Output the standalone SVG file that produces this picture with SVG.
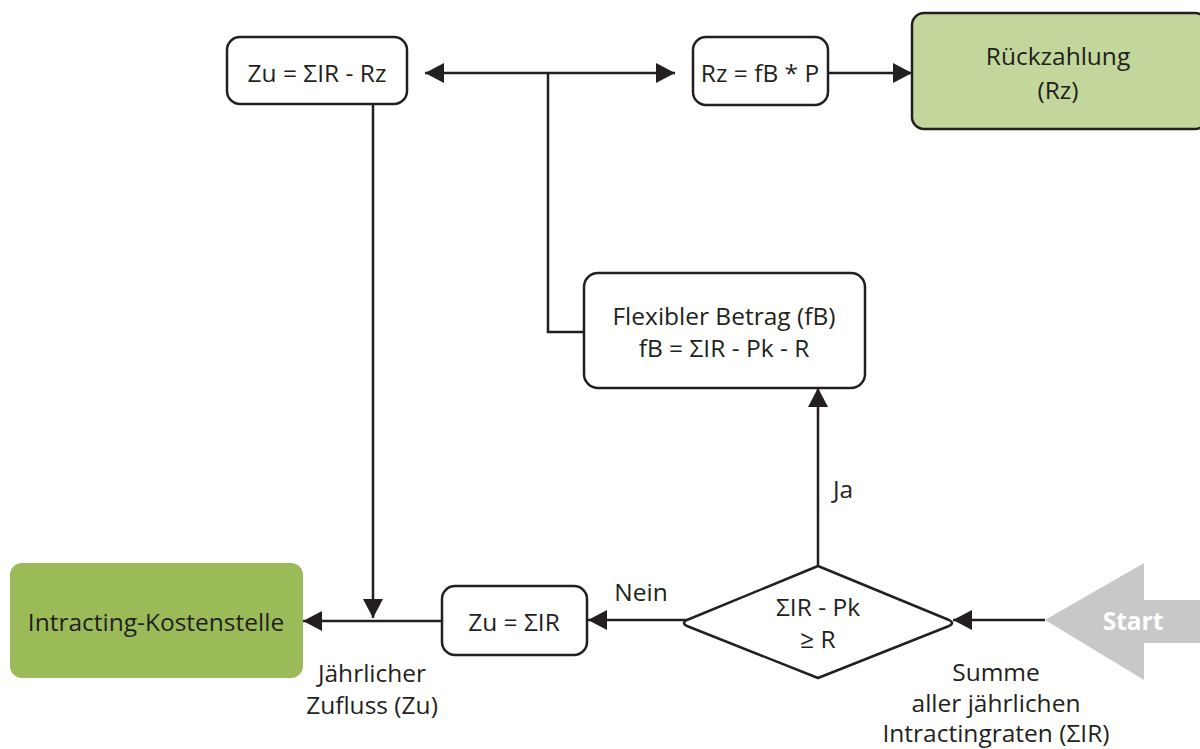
<svg xmlns="http://www.w3.org/2000/svg" width="1200" height="749" viewBox="0 0 1200 749">
<style>
text{font-family:"Open Sans","Noto Sans","Liberation Sans",sans-serif;font-size:24.5px;fill:#231f20;text-anchor:middle;dominant-baseline:central}
.box{fill:#fff;stroke:#231f20;stroke-width:2.5}
.con{fill:none;stroke:#231f20;stroke-width:2.5}
</style>
<defs>
<marker id="ah" markerUnits="userSpaceOnUse" markerWidth="20" markerHeight="22" viewBox="0 0 19 22" refX="19" refY="11" orient="auto-start-reverse">
<path d="M0,1 L19,11 L0,21 Z" fill="#231f20"/>
</marker>
</defs>
<g id="connectors">
<path class="con" d="M425,73 L548,73 L675,73" marker-start="url(#ah)" marker-end="url(#ah)"/>
<path class="con" d="M548,73 L548,332 L584,332"/>
<path class="con" d="M828,73 L912,73" marker-end="url(#ah)"/>
<path class="con" d="M373,105 L373,618" marker-end="url(#ah)"/>
<path class="con" d="M442,621 L303,621" marker-end="url(#ah)"/>
<path class="con" d="M687,620 L588,620" marker-end="url(#ah)"/>
<path class="con" d="M818,566 L818,388" marker-end="url(#ah)"/>
<path class="con" d="M1045,620 L953,620" marker-end="url(#ah)"/>
</g>
<g id="zu_rz">
<rect class="box" x="227" y="37" width="180" height="67" rx="13"/>
<text x="317" y="72">Zu = ΣIR - Rz</text>
</g>
<g id="rz">
<rect class="box" x="693" y="37" width="135" height="68" rx="13"/>
<text x="760" y="72">Rz = fB * P</text>
</g>
<g id="rueckzahlung">
<rect x="912" y="13" width="295" height="116" rx="12" fill="#c3d69b" stroke="#231f20" stroke-width="2.5"/>
<text x="1058" y="55">Rückzahlung</text>
<text x="1058" y="89">(Rz)</text>
</g>
<g id="flex">
<rect class="box" x="584" y="273" width="281" height="115" rx="14"/>
<text x="724" y="315">Flexibler Betrag (fB)</text>
<text x="724" y="347">fB = ΣIR - Pk - R</text>
</g>
<g id="decision">
<path d="M687,620 L818,566 L949,620 Q955,623 949,626 L818,678 L687,626 Q681,623 687,620 Z" fill="#fff" stroke="#231f20" stroke-width="2.5" stroke-linejoin="round"/>
<text x="818" y="606">ΣIR - Pk</text>
<text x="818" y="638">≥ R</text>
</g>
<g id="zu_ir">
<rect class="box" x="442" y="586" width="145" height="69" rx="13"/>
<text x="514" y="621">Zu = ΣIR</text>
</g>
<g id="kostenstelle">
<rect x="10" y="563" width="293" height="115" rx="12" fill="#9bbb59"/>
<text x="156" y="621">Intracting-Kostenstelle</text>
</g>
<g id="start">
<path d="M1045,620 L1144,563 L1144,600 L1200,600 L1200,643 L1144,643 L1144,680 Z" fill="#c8c8c8"/>
<text x="1133" y="620" style="fill:#fff;font-weight:bold">Start</text>
</g>
<g id="labels">
<text x="843" y="488">Ja</text>
<text x="641" y="591">Nein</text>
<text x="372" y="672">Jährlicher</text>
<text x="372" y="704">Zufluss (Zu)</text>
<text x="996" y="671">Summe</text>
<text x="996" y="702">aller jährlichen</text>
<text x="996" y="732">Intractingraten (ΣIR)</text>
</g>
</svg>
